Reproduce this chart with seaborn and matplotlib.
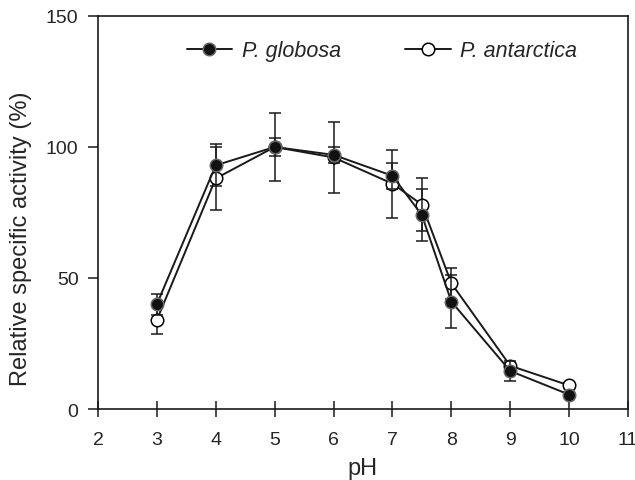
import matplotlib as mpl
mpl.use("Agg")
import matplotlib.pyplot as plt
import seaborn as sns
import pandas as pd
import numpy as np

ph = [3, 4, 5, 6, 7, 7.5, 8, 9, 10]
globosa = [40, 93, 100, 97, 89, 74, 41, 14.5, 5.5]
globosa_sd = [4, 8, 13, 3, 5, 10, 10, 4, 1]
antarctica = [34, 88, 100, 96, 86, 78, 48, 16.5, 9]
antarctica_sd = [5.5, 12, 3.5, 13.5, 13, 10, 6, 1, 1]

df = pd.concat([
    pd.DataFrame({'pH': ph, 'activity': antarctica, 'sd': antarctica_sd, 'species': 'P. antarctica'}),
    pd.DataFrame({'pH': ph, 'activity': globosa, 'sd': globosa_sd, 'species': 'P. globosa'}),
])

sns.set_style('ticks')
plt.rcParams['font.family'] = ['Liberation Sans', 'DejaVu Sans']

fig = plt.figure(figsize=(6.35, 4.81), dpi=100)
ax = fig.add_axes([0.1543, 0.1476, 0.8347, 0.8171])

styles = {'P. antarctica': dict(mfc='white', mec='black'),
          'P. globosa': dict(mfc='#111111', mec='#666666')}

for i, sp in enumerate(['P. antarctica', 'P. globosa']):
    sub = df[df.species == sp]
    ax.errorbar(sub['pH'], sub['activity'], yerr=sub['sd'], fmt='none',
                ecolor='#1a1a1a', elinewidth=1.1, capsize=4.5, capthick=1.1,
                zorder=2 + i * 2)
    sns.lineplot(data=sub, x='pH', y='activity', ax=ax, color='#1a1a1a',
                 linewidth=1.4, marker='o', markersize=9,
                 markerfacecolor=styles[sp]['mfc'],
                 markeredgecolor=styles[sp]['mec'], markeredgewidth=1.1,
                 zorder=3 + i * 2, label=sp, legend=False)

ax.set_xlim(2, 11)
ax.set_ylim(0, 150)
ax.set_xticks(range(2, 12))
ax.set_yticks([0, 50, 100, 150])
ax.tick_params(axis='x', direction='inout', length=11, width=1.1,
               labelsize=14, pad=10, color='#1a1a1a')
ax.tick_params(axis='y', direction='out', length=7, width=1.1,
               labelsize=14, pad=7, color='#1a1a1a')
for s in ax.spines.values():
    s.set_linewidth(1.2)
    s.set_color('#1a1a1a')
ax.set_xlabel('pH', fontsize=17, labelpad=7)
ax.set_ylabel('Relative specific activity (%)', fontsize=17)
ax.yaxis.set_label_coords(-0.124, 0.437)

handles = [
    mpl.lines.Line2D([], [], color='#1a1a1a', lw=1.4, marker='o', markersize=9,
                     mfc='#111111', mec='#666666', mew=1.1),
    mpl.lines.Line2D([], [], color='#1a1a1a', lw=1.4, marker='o', markersize=9,
                     mfc='white', mec='black', mew=1.1),
]
ax.legend(handles, ['P. globosa', 'P. antarctica'], loc='center',
          bbox_to_anchor=(0.536, 0.912), ncol=2, frameon=False,
          prop={'style': 'italic', 'size': 15.5}, handlelength=2.1,
          handletextpad=0.45, columnspacing=3.0)

fig.savefig('out.png', dpi=100)
